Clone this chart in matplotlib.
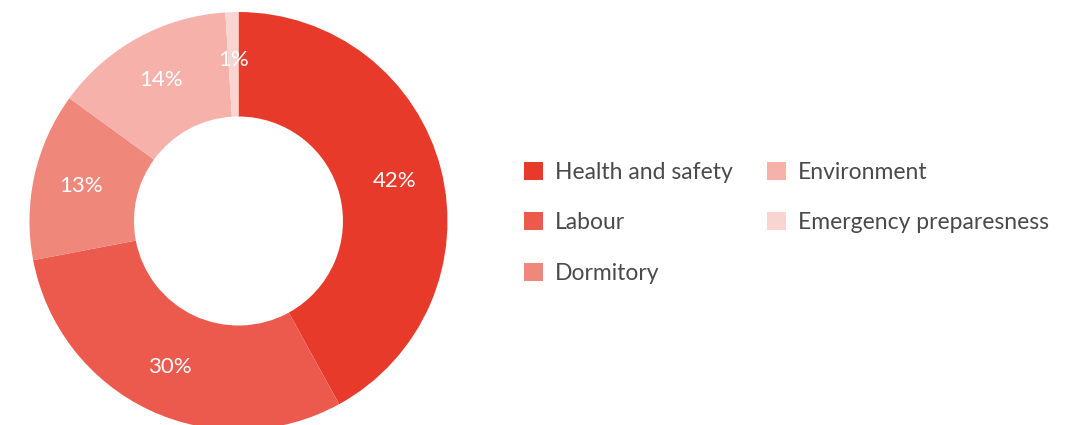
import matplotlib.pyplot as plt
from matplotlib.patches import Patch

# data (clockwise from 12 o'clock)
categories = ["Health and safety", "Labour", "Dormitory", "Environment", "Emergency preparesness"]
shares = [42, 30, 13, 14, 1]
colors = ["#E83A2A", "#EC5A4D", "#F0877B", "#F6B1AB", "#F9D5D2"]

plt.rcParams["font.family"] = ["Lato", "DejaVu Sans"]

fig = plt.figure(figsize=(10.84, 4.25), dpi=100)

# donut: centre ~ (238, 221) px, outer radius ~209 px
ax = fig.add_axes([0.0272, -0.0118, 0.3856, 0.9835])
wedges, _, pct = ax.pie(
    shares,
    colors=colors,
    startangle=90,
    counterclock=False,
    radius=1.0,
    autopct=lambda p: f"{p:.0f}%",
    pctdistance=0.77,
    wedgeprops=dict(width=0.5, linewidth=0),
    textprops=dict(color="white", fontsize=16),
)
ax.set_xlim(-1, 1)
ax.set_ylim(-1, 1)
ax.set_aspect("equal")
ax.axis("off")

handles = [Patch(facecolor=c, edgecolor="none") for c in colors]
fig.legend(
    handles,
    categories,
    ncol=2,
    loc="center left",
    bbox_to_anchor=(0.473, 0.476),
    frameon=False,
    fontsize=16.5,
    labelcolor="#4A4A4A",
    handlelength=0.83,
    handleheight=0.83,
    handletextpad=0.52,
    labelspacing=1.28,
    columnspacing=1.5,
    borderpad=0,
)

fig.savefig("out.png", dpi=100)
